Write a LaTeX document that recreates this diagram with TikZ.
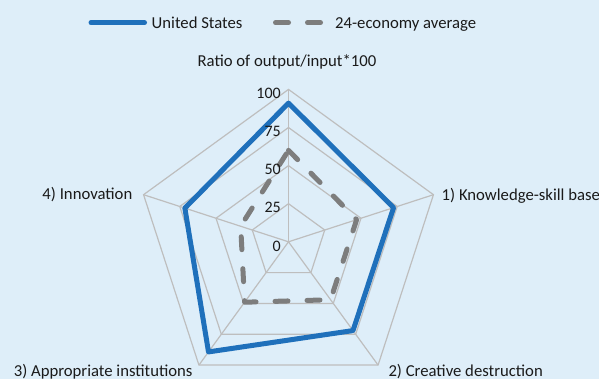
\documentclass[tikz,border=0pt]{standalone}
\usepackage{fontspec}
\setmainfont{Carlito}
\definecolor{bg}{RGB}{222,238,249}
\definecolor{usblue}{RGB}{31,112,187}
\definecolor{avggray}{RGB}{125,125,125}
\definecolor{gridc}{RGB}{190,190,190}
\definecolor{txt}{RGB}{26,26,26}
\begin{document}
\begin{tikzpicture}[x=1pt,y=-1pt,
  lbl/.style={font=\fontsize{16.7}{20}\selectfont, text=txt, inner sep=0pt},
  num/.style={font=\fontsize{16}{19}\selectfont, text=txt, inner sep=0pt},
  gridline/.style={draw=gridc, line width=1.2pt},
  usline/.style={draw=usblue, line width=5pt, line join=round, line cap=round},
  avgline/.style={draw=avggray, line width=5pt, line cap=round, line join=round, dash pattern=on 13pt off 19pt}]
\fill[bg] (0,0) rectangle (599,379);
\useasboundingbox (0,0) rectangle (599,379);
% legend
\draw[usline] (91,22.7) -- (144.5,22.7);
\node[lbl, anchor=base west] (lus) at (151.5,28.3) {United States};
\draw[avgline] (275.5,22.7) -- (320.5,22.7);
\node[lbl, anchor=base west] (lavg) at (335,28.3) {24-economy average};
\node[lbl, anchor=base] (title) at (287,66.7) {Ratio of output/input*100};
% radar
\begin{scope}[shift={(288.5,241.8)}, y=1pt]
  \def\s{1.524}
  \foreach \f in {25,50,75,100}{
    \draw[gridline] (90:\f*\s) -- (18:\f*\s) -- (-54:\f*\s) -- (-126:\f*\s) -- (162:\f*\s) -- cycle;
  }
  \foreach \a in {90,18,-54,-126,162}{
    \draw[gridline] (0,0) -- (\a:100*\s);
  }
  \draw[avgline] (90:60*\s) -- (18:47*\s) -- (-54:47*\s) -- (-126:49*\s) -- (162:33*\s) -- cycle;
  \draw[usline] (90:91*\s) -- (18:72.5*\s) -- (-54:72*\s) -- (-126:89.3*\s) -- (162:71.5*\s) -- cycle;
\end{scope}
% scale numbers
\node[num, anchor=base east] (n100) at (281,98.7) {100};
\node[num, anchor=base east] (n75) at (281,136.6) {75};
\node[num, anchor=base east] (n50) at (281,174.7) {50};
\node[num, anchor=base east] (n25) at (281,212.6) {25};
\node[num, anchor=base east] (n0) at (281,251.1) {0};
% axis labels
\node[lbl, anchor=base west] (ax1) at (441.5,200.5) {1) Knowledge-skill base};
\node[lbl, anchor=base west] (ax2) at (388.3,376.7) {2) Creative destruction};
\node[lbl, anchor=base east] (ax3) at (192.7,376.7) {3) Appropriate institutions};
\node[lbl, anchor=base east] (ax4) at (132.5,199.5) {4) Innovation};
\end{tikzpicture}
\end{document}
